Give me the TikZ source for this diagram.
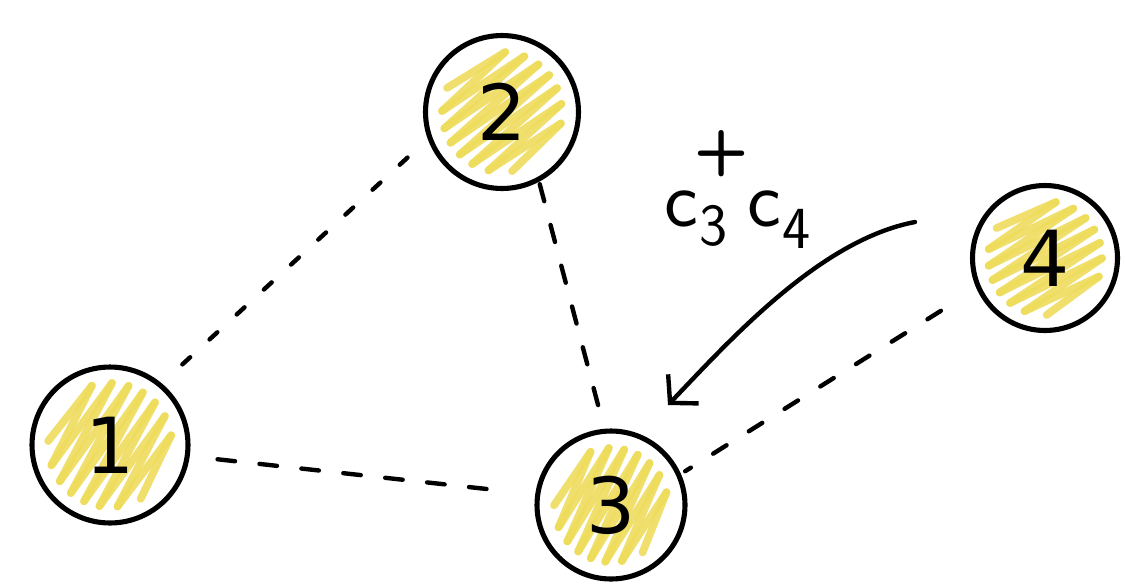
\documentclass[tikz,border=0pt]{standalone}
\usepackage{fontspec}
\newfontfamily\digitfont{DejaVu Sans}
\usetikzlibrary{arrows.meta}
\definecolor{marker}{RGB}{238,220,92}
\pgfdeclarelayer{bg}
\pgfsetlayers{bg,main}
\tikzset{
  disc/.style={circle, draw=black, line width=2.9pt, inner sep=0pt,
    font=\digitfont\fontsize{44}{44}\selectfont},
  scrib/.style={draw=marker, line width=4.4pt, line cap=round, opacity=0.9},
  link/.style={line width=2.5pt, line cap=round, dash pattern=on 6pt off 15pt},
  hop/.style={line width=2.5pt, line cap=round,
    -{Straight Barb[length=11pt,width=24pt,line width=2.5pt]}},
  oplabel/.style={inner sep=0pt, font=\sffamily\fontsize{46}{46}\selectfont}
}
\newcommand\idx[1]{{\fontsize{34}{34}\selectfont #1}}
% zigzag marker fill inside a disc: node, inner radius (px), stroke angle
\newcommand\scribble[3]{%
  \foreach \k in {0,...,13}{%
    \pgfmathsetmacro\sa{-0.88*#2+\k*1.76*#2/14}%
    \pgfmathsetmacro\sb{-0.88*#2+(\k+1)*1.76*#2/14}%
    \pgfmathsetmacro\ca{sqrt(max(#2*#2-\sa*\sa,0))*(2*mod(\k,2)-1)}%
    \pgfmathsetmacro\cb{-sqrt(max(#2*#2-\sb*\sb,0))*(2*mod(\k,2)-1)}%
    \pgfmathsetmacro\xa{\sa*sin(#3)+\ca*cos(#3)}%
    \pgfmathsetmacro\ya{\sa*cos(#3)-\ca*sin(#3)}%
    \pgfmathsetmacro\xb{\sb*sin(#3)+\cb*cos(#3)}%
    \pgfmathsetmacro\yb{\sb*cos(#3)-\cb*sin(#3)}%
    \draw[scrib] ([shift={(\xa,\ya)}]#1.center) -- ([shift={(\xb,\yb)}]#1.center);
  }%
}
\begin{document}
\begin{tikzpicture}[x=0.02cm,y=-0.02cm]
  \useasboundingbox (0,0) rectangle (1125,585);

  \node[disc, minimum size=3.12cm] (n1) at (110,445) {1};
  \node[disc, minimum size=3.06cm] (n2) at (502,112) {2};
  \node[disc, minimum size=2.96cm] (n3) at (611,505) {3};
  \node[disc, minimum size=2.90cm] (n4) at (1045,258) {4};

  \begin{pgfonlayer}{bg}
    \scribble{n1}{62}{58}
    \scribble{n2}{60}{38}
    \scribble{n3}{57}{62}
    \scribble{n4}{57}{30}
  \end{pgfonlayer}

  % dashed hoppings between sites
  \draw[link, shorten <=0.56cm, shorten >=0.5cm] (n1.50) -- (n2.200);
  \draw[link, dash pattern=on 10pt off 14pt, shorten <=0.56cm, shorten >=0.84cm] (n1.-8) -- (n3.172);
  \draw[link, dash pattern=on 10pt off 14pt, shorten <=0.05cm, shorten >=0.05cm] (n2.-62) -- (n3.95);
  \draw[link, dash pattern=on 9pt off 15pt, shorten <=0.84cm, shorten >=0.1cm] (n4.204) -- (n3.24);

  % curved arrow for the hopping operator
  \coordinate (a0) at (915,222);
  \coordinate (a1) at (668,405);
  \draw[hop] (a0) .. controls (820,240) and (730,340) .. (a1);
  \node[oplabel, anchor=base west] (op) at (664,226)
    {c\hspace{1pt}\raisebox{-11pt}{\idx{3}}\llap{\raisebox{32pt}{\bfseries\fontsize{36}{36}\selectfont +}\hspace{-12pt}}\hspace{11pt}c\hspace{1pt}\raisebox{-13pt}{\idx{4}}};
\end{tikzpicture}
\end{document}
